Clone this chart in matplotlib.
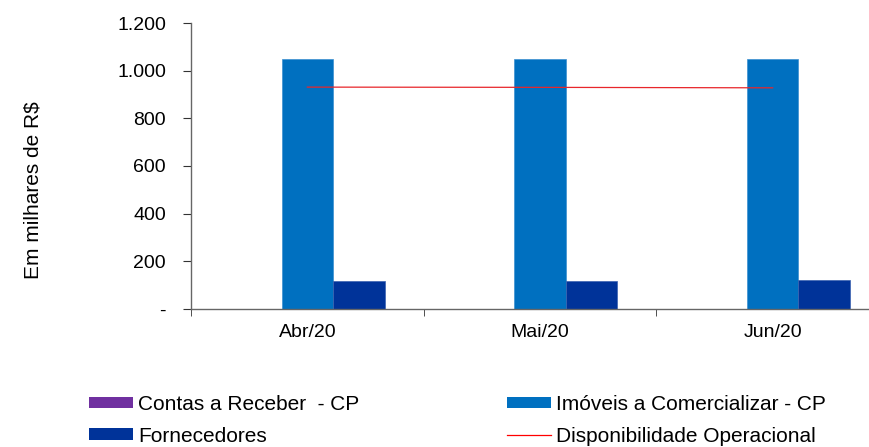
import matplotlib
matplotlib.use("Agg")
import matplotlib.pyplot as plt
import numpy as np
from matplotlib.patches import Patch
from matplotlib.lines import Line2D

categories = ['Abr/20', 'Mai/20', 'Jun/20']
contas_receber = [0, 0, 0]
imoveis = [1047, 1047, 1047]
fornecedores = [117, 118, 120]
disponibilidade = [931, 930, 928]
yticks = [0, 200, 400, 600, 800, 1000, 1200]
ytick_labels = ['-', '200', '400', '600', '800', '1.000', '1.200']

plt.rcParams['font.family'] = ['Liberation Sans', 'DejaVu Sans']

W, H = 870, 447
fig = plt.figure(figsize=(W / 100, H / 100), dpi=100)
ax = fig.add_axes([191 / W, (H - 309) / H, 698 / W, 286 / H])

x = np.arange(len(categories))
bw = 0.222
c_contas = '#7030A0'
c_imov = '#0070C0'
c_forn = '#003399'
ax.bar(x - bw, contas_receber, bw, color=c_contas)
ax.bar(x, imoveis, bw, color=c_imov, edgecolor='#3b8fd0', linewidth=0.5)
ax.bar(x + bw, fornecedores, bw, color=c_forn, edgecolor='#3b62b0', linewidth=0.5)
ax.plot(x, disponibilidade, color='#e8262b', linewidth=0.9)

ax.set_xlim(-0.5, 2.5)
ax.set_ylim(0, 1200)
ax.set_yticks(yticks)
ax.set_yticklabels(ytick_labels, fontsize=14)
ax.set_xticks(x)
ax.set_xticklabels(categories, fontsize=14)
ax.set_xticks([-0.5, 0.5, 1.5, 2.5], minor=True)
ax.tick_params(axis='x', which='major', length=0, pad=11)
ax.tick_params(axis='x', which='minor', length=5, direction='out', color='#333333')
ax.tick_params(axis='y', length=6, direction='out', color='#333333', pad=12)
for s in ['top', 'right']:
    ax.spines[s].set_visible(False)
for s in ['left', 'bottom']:
    ax.spines[s].set_color('#666666')
    ax.spines[s].set_linewidth(1.0)

fig.text(33 / W, 1 - 190 / H, 'Em milhares de R$', rotation=90, fontsize=15,
         ha='center', va='center')

handles = [Patch(facecolor=c_contas), Patch(facecolor=c_forn),
           Patch(facecolor=c_imov), Line2D([], [], color='red', linewidth=0.9)]
labels = ['Contas a Receber  - CP', 'Fornecedores',
          'Imóveis a Comercializar - CP', 'Disponibilidade Operacional']
fig.legend(handles, labels, ncol=2, loc='upper left',
           bbox_to_anchor=(89 / W, 1 - 395 / H), frameon=False,
           fontsize=15, handlelength=2.1, handleheight=0.48,
           handletextpad=0.24, columnspacing=7.1, labelspacing=0.6,
           borderpad=0, borderaxespad=0)

fig.savefig('out.png', dpi=100)
